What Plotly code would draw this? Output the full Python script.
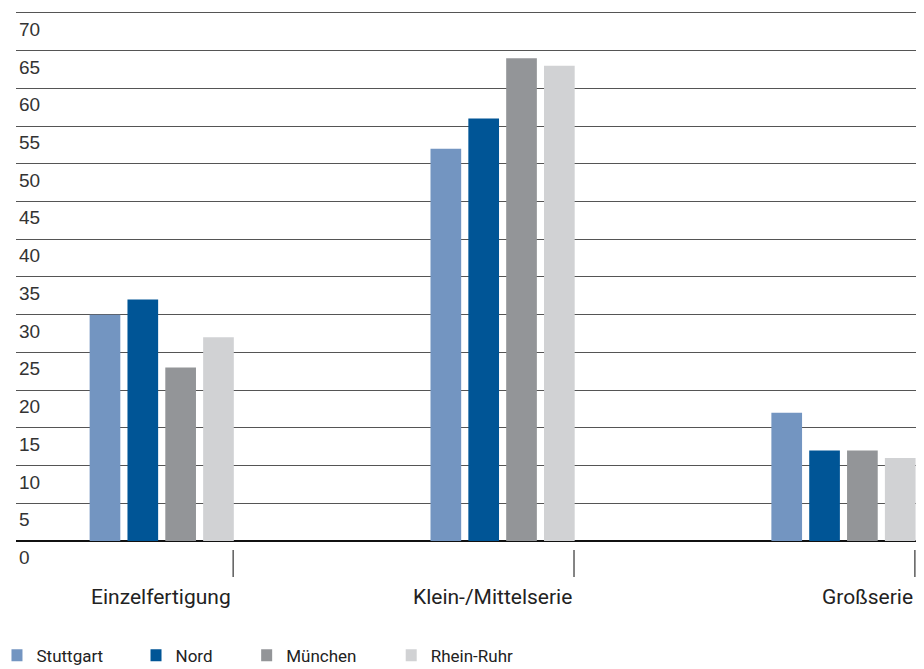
import plotly.graph_objects as go

categories = ["Einzelfertigung", "Klein-/Mittelserie", "Großserie"]
series_names = ["Stuttgart", "Nord", "München", "Rhein-Ruhr"]
stuttgart = [30, 52, 17]
nord = [32, 56, 12]
muenchen = [23, 64, 12]
rhein_ruhr = [27, 63, 11]
y_ticks = [0, 5, 10, 15, 20, 25, 30, 35, 40, 45, 50, 55, 60, 65, 70]

series_values = [stuttgart, nord, muenchen, rhein_ruhr]
colors = ["#7395c1", "#005596", "#939598", "#d1d2d4"]

## bars sit at the right end of each category slot
offsets = [0.079, 0.19, 0.301, 0.412]
bar_width = 0.09

## one legend per series so the entries can be spaced like the original
legend_ids = ["legend", "legend2", "legend3", "legend4"]
legend_x = [-0.005, 0.1488, 0.2712, 0.4311]

fig = go.Figure()
for name, vals, col, off, lid in zip(series_names, series_values, colors, offsets, legend_ids):
    fig.add_trace(go.Bar(
        x=list(range(len(categories))),
        y=vals,
        name=name,
        marker=dict(color=col, line=dict(width=0)),
        offset=off,
        width=bar_width,
        legend=lid,
    ))

## detached tick marks and right-aligned category labels
for i, cat in enumerate(categories):
    fig.add_shape(type="line", xref="x", yref="paper",
                  x0=i + 0.5, x1=i + 0.5, y0=-0.017, y1=-0.068,
                  line=dict(color="#333333", width=1.2))
    fig.add_annotation(x=i + 0.5, y=-0.106, xref="x", yref="paper",
                       text=cat, showarrow=False, xanchor="right",
                       yanchor="middle",
                       font=dict(family="Roboto", size=21, color="#222222"))

fig.update_xaxes(
    range=[-0.137, 2.515],
    showticklabels=False,
    showgrid=False,
    zeroline=False,
    ticks="",
)

fig.update_yaxes(
    range=[0, 70.25],
    tickvals=y_ticks,
    ticklabelposition="inside bottom",
    ticklabeloverflow="allow",
    ticklabelshift=3,
    showgrid=True,
    gridcolor="#555555",
    gridwidth=1,
    zeroline=True,
    zerolinecolor="#111111",
    zerolinewidth=1.5,
    tickfont=dict(family="Liberation Sans", size=19, color="#333333"),
)

legend_style = dict(
    orientation="h",
    y=-0.2166,
    xanchor="left", yanchor="middle",
    indentation=-15,
    font=dict(family="Roboto", size=17, color="#222222"),
    bgcolor="rgba(0,0,0,0)",
)
legends = {lid: dict(legend_style, x=lx) for lid, lx in zip(legend_ids, legend_x)}

## page body adds an 8px margin, margins below are relative to that
fig.update_layout(
    width=924,
    height=669,
    autosize=False,
    barmode="overlay",
    plot_bgcolor="white",
    paper_bgcolor="white",
    margin={"l": 5, "r": 12, "t": 3, "b": 135},
    showlegend=True,
    **legends,
)

fig.write_html("out.html")
